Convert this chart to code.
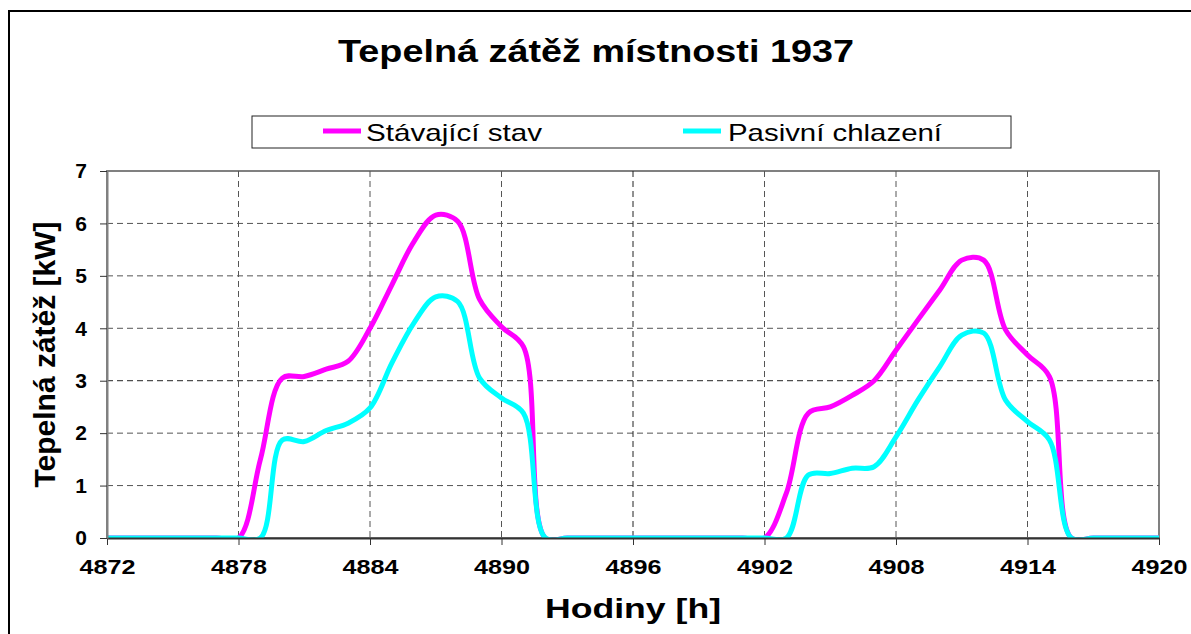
<!DOCTYPE html>
<html>
<head>
<meta charset="utf-8">
<script src="https://cdn.jsdelivr.net/npm/d3@7"></script>
<style>
  body { margin: 0; background: #fff; }
  svg { display: block; font-family: "Liberation Sans", Arial, sans-serif; }
</style>
</head>
<body>
<div id="chart"></div>
<script>
const hours = d3.range(4872, 4921);

const stavValues = [
  0, 0, 0, 0, 0, 0, 0,
  1.5, 3.05, 3.08, 3.22, 3.37, 4.0, 4.83, 5.65, 6.16, 6.04, 4.55, 4.03, 3.65,
  0, 0, 0, 0, 0, 0, 0, 0, 0, 0, 0,
  0.86, 2.38, 2.5, 2.72, 3.0, 3.58, 4.16, 4.73, 5.3, 5.3, 3.97, 3.49, 3.08,
  0, 0, 0, 0, 0,
];

const chlazeniValues = [
  0, 0, 0, 0, 0, 0, 0, 0,
  1.87, 1.84, 2.05, 2.19, 2.48, 3.34, 4.1, 4.6, 4.51, 3.05, 2.67, 2.38,
  0, 0, 0, 0, 0, 0, 0, 0, 0, 0, 0, 0,
  1.2, 1.23, 1.33, 1.36, 1.93, 2.63, 3.27, 3.87, 3.91, 2.63, 2.22, 1.87,
  0, 0, 0, 0, 0,
];

const xTicks = [4872, 4878, 4884, 4890, 4896, 4902, 4908, 4914, 4920];
const yTicks = [0, 1, 2, 3, 4, 5, 6, 7];

const seriesNames = ["Stávající stav", "Pasivní chlazení"];
const seriesColors = ["#ff00ff", "#00ffff"];

const width = 1191;
const height = 634;
const margin = { top: 171, right: 32, bottom: 96, left: 107 };

const x = d3
  .scaleLinear()
  .domain([4872, 4920])
  .range([margin.left, width - margin.right]);

const y = d3
  .scaleLinear()
  .domain([0, 7])
  .range([height - margin.bottom, margin.top]);

const svg = d3
  .select("#chart")
  .append("svg")
  .attr("width", width)
  .attr("height", height);

// outer chart frame (runs off the right and bottom edges)
svg
  .append("rect")
  .attr("x", 9)
  .attr("y", 11)
  .attr("width", width + 20)
  .attr("height", height + 20)
  .attr("fill", "none")
  .attr("stroke", "#000")
  .attr("stroke-width", 2);

svg
  .append("text")
  .attr("x", 596)
  .attr("y", 62)
  .attr("text-anchor", "middle")
  .attr("font-size", 32)
  .attr("font-weight", "bold")
  .attr("textLength", 516)
  .attr("lengthAdjust", "spacingAndGlyphs")
  .text("Tepelná zátěž místnosti 1937");

// legend
const legend = svg.append("g");
legend
  .append("rect")
  .attr("x", 252)
  .attr("y", 116)
  .attr("width", 759)
  .attr("height", 32)
  .attr("fill", "#fff")
  .attr("stroke", "#222")
  .attr("stroke-width", 1);

const legendItems = legend
  .selectAll(".legend-item")
  .data([
    { lx: 323, tx: 366, tw: 176 },
    { lx: 683, tx: 728, tw: 214 },
  ])
  .join("g")
  .attr("class", "legend-item");

legendItems
  .append("line")
  .attr("x1", (d) => d.lx)
  .attr("x2", (d) => d.lx + 38)
  .attr("y1", 131)
  .attr("y2", 131)
  .attr("stroke", (d, i) => seriesColors[i])
  .attr("stroke-width", 5);

legendItems
  .append("text")
  .attr("x", (d) => d.tx)
  .attr("y", 141)
  .attr("font-size", 24)
  .attr("textLength", (d) => d.tw)
  .attr("lengthAdjust", "spacingAndGlyphs")
  .text((d, i) => seriesNames[i]);

// plot area
svg
  .append("rect")
  .attr("x", margin.left)
  .attr("y", margin.top)
  .attr("width", width - margin.right - margin.left)
  .attr("height", height - margin.bottom - margin.top)
  .attr("fill", "#fff")
  .attr("stroke", "#808080")
  .attr("stroke-width", 2);

const grid = svg.append("g").attr("class", "grid");
grid
  .selectAll(".hgrid")
  .data(yTicks.slice(1, -1))
  .join("line")
  .attr("x1", margin.left)
  .attr("x2", width - margin.right)
  .attr("y1", (d) => y(d))
  .attr("y2", (d) => y(d))
  .attr("stroke", (d) => (d === 3 ? "#222" : "#555"))
  .attr("stroke-dasharray", "6,4");

grid
  .selectAll(".vgrid")
  .data(xTicks.slice(1, -1))
  .join("line")
  .attr("y1", margin.top)
  .attr("y2", height - margin.bottom)
  .attr("x1", (d) => x(d))
  .attr("x2", (d) => x(d))
  .attr("stroke", (d) => (d === 4896 ? "#222" : "#555"))
  .attr("stroke-dasharray", "6,4");

svg
  .append("clipPath")
  .attr("id", "plot-clip")
  .append("rect")
  .attr("x", margin.left)
  .attr("y", margin.top)
  .attr("width", width - margin.right - margin.left)
  .attr("height", height - margin.bottom - margin.top);

const line = d3
  .line()
  .x((d) => x(d[0]))
  .y((d) => y(d[1]))
  .curve(d3.curveCatmullRom.alpha(0.5));

svg
  .append("g")
  .attr("clip-path", "url(#plot-clip)")
  .selectAll("path")
  .data([stavValues, chlazeniValues])
  .join("path")
  .attr("d", (vals) => line(hours.map((h, i) => [h, vals[i]])))
  .attr("fill", "none")
  .attr("stroke", (d, i) => seriesColors[i])
  .attr("stroke-width", 5)
  .attr("stroke-linejoin", "round");

// axes
const xAxisG = svg
  .append("g")
  .attr("transform", `translate(0,${height - margin.bottom})`)
  .call(
    d3
      .axisBottom(x)
      .tickValues(xTicks)
      .tickFormat(d3.format("d"))
      .tickSize(7)
      .tickPadding(14)
      .tickSizeOuter(0)
  );

xAxisG.select(".domain").attr("stroke", "#333").attr("stroke-width", 2);
xAxisG.selectAll(".tick line").attr("stroke", "#333");
xAxisG
  .selectAll(".tick text")
  .attr("font-size", 21)
  .attr("font-weight", "bold")
  .attr("fill", "#000")
  .attr("font-family", "Liberation Sans, Arial, sans-serif")
  .attr("textLength", 56)
  .attr("lengthAdjust", "spacingAndGlyphs");

const yAxisG = svg
  .append("g")
  .attr("transform", `translate(${margin.left},0)`)
  .call(
    d3
      .axisLeft(y)
      .tickValues(yTicks)
      .tickFormat(d3.format("d"))
      .tickSize(7)
      .tickPadding(13)
      .tickSizeOuter(0)
  );

yAxisG.select(".domain").attr("stroke", "#808080").attr("stroke-width", 2);
yAxisG.selectAll(".tick line").attr("stroke", "#333");
yAxisG
  .selectAll(".tick text")
  .attr("font-size", 21)
  .attr("font-weight", "bold")
  .attr("fill", "#000")
  .attr("font-family", "Liberation Sans, Arial, sans-serif");

svg
  .append("text")
  .attr("x", (margin.left + width - margin.right) / 2)
  .attr("y", 618)
  .attr("text-anchor", "middle")
  .attr("font-size", 28)
  .attr("font-weight", "bold")
  .attr("textLength", 176)
  .attr("lengthAdjust", "spacingAndGlyphs")
  .text("Hodiny [h]");

svg
  .append("text")
  .attr("transform", `translate(55,${(margin.top + height - margin.bottom) / 2}) rotate(-90)`)
  .attr("text-anchor", "middle")
  .attr("font-size", 30)
  .attr("font-weight", "bold")
  .attr("textLength", 266)
  .attr("lengthAdjust", "spacingAndGlyphs")
  .text("Tepelná zátěž [kW]");
</script>
</body>
</html>
